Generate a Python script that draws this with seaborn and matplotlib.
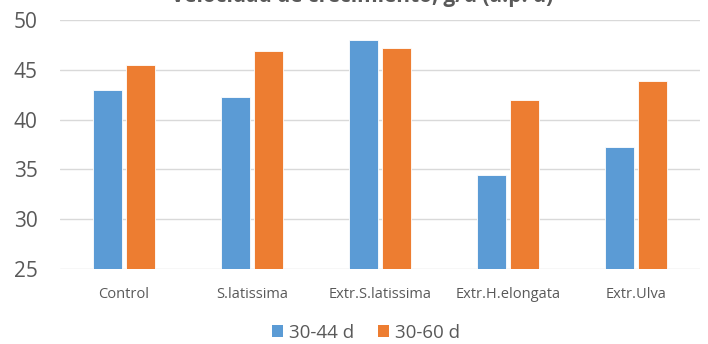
import matplotlib
matplotlib.use("Agg")
import matplotlib.pyplot as plt
import seaborn as sns
import pandas as pd

categories = ["Control", "S.latissima", "Extr.S.latissima", "Extr.H.elongata", "Extr.Ulva"]
series_names = ["30-44 d", "30-60 d"]
values_30_44 = [43.0, 42.3, 48.0, 34.4, 37.2]
values_30_60 = [45.5, 46.9, 47.2, 42.0, 43.9]
y_ticks = [25, 30, 35, 40, 45, 50]
title = "Velocidad de crecimiento, g/d (a.p. d)"

colors = ["#5B9BD5", "#ED7D31"]
text_color = "#595959"

df = pd.DataFrame({
    "categoria": categories * 2,
    "serie": [series_names[0]] * len(categories) + [series_names[1]] * len(categories),
    "valor": values_30_44 + values_30_60,
})

sns.set_theme(style="white")
plt.rcParams["font.family"] = ["Open Sans", "DejaVu Sans"]

fig = plt.figure(figsize=(7.08, 3.44), dpi=100)
ax = fig.add_axes([60 / 708, 1 - 269 / 344, 640 / 708, 249 / 344])

sns.barplot(data=df, x="categoria", y="valor", hue="serie", palette=colors,
            width=0.516, gap=0.13, ax=ax, edgecolor="#ffffff", linewidth=0.6,
            saturation=1, zorder=3)

ax.set_ylim(25, 50)
ax.set_yticks(y_ticks)
ax.set_xlim(-0.5, len(categories) - 0.5)
ax.yaxis.grid(True, color="#D9D9D9", linewidth=1.0, zorder=0)
ax.set_axisbelow(True)
for s in ax.spines.values():
    s.set_visible(False)
ax.set_xlabel("")
ax.set_ylabel("")
ax.tick_params(axis="y", length=0, pad=16, labelsize=15, labelcolor=text_color)
ax.tick_params(axis="x", length=0, pad=13, labelsize=10.5, labelcolor=text_color)

leg = ax.legend(loc="center", bbox_to_anchor=(366 / 708, 1 - 333 / 344),
                bbox_transform=fig.transFigure, ncol=2, frameon=False,
                fontsize=13.5, handlelength=0.6, handleheight=0.6,
                handletextpad=0.3, columnspacing=1.3, labelcolor=text_color)
for h in leg.legend_handles:
    h.set_edgecolor("none")

fig.text(362 / 708, 1 - 2 / 344, title, ha="center", va="baseline",
         fontsize=15, fontweight="bold", color=text_color)

fig.savefig("out.png", dpi=100)
